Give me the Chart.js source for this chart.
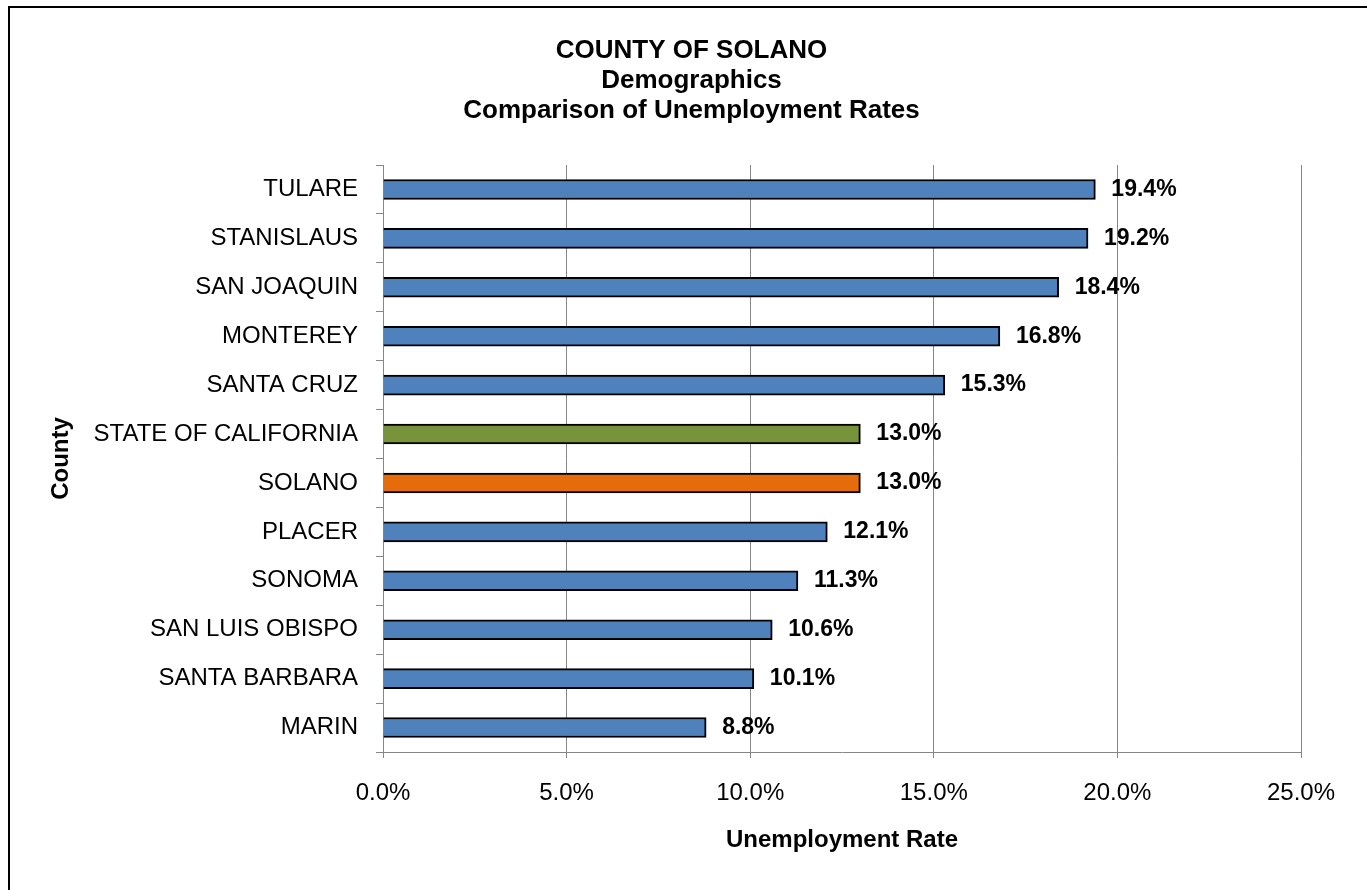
<!DOCTYPE html>
<html>
<head>
<meta charset="utf-8">
<script src="https://cdn.jsdelivr.net/npm/chart.js@4/dist/chart.umd.min.js"></script>
<style>
  html, body { margin: 0; padding: 0; background: #ffffff; }
  #wrap { width: 1367px; height: 890px; position: relative; }
  canvas { display: block; }
</style>
</head>
<body>
<div id="wrap"><canvas id="c" width="1367" height="890"></canvas></div>
<script>
const titleLines = ['COUNTY OF SOLANO', 'Demographics', 'Comparison of Unemployment Rates'];
const categories = ['TULARE', 'STANISLAUS', 'SAN JOAQUIN', 'MONTEREY', 'SANTA CRUZ', 'STATE OF CALIFORNIA', 'SOLANO', 'PLACER', 'SONOMA', 'SAN LUIS OBISPO', 'SANTA BARBARA', 'MARIN'];
const rates = [19.4, 19.2, 18.4, 16.8, 15.3, 13.0, 13.0, 12.1, 11.3, 10.6, 10.1, 8.8];
const barColors = ['#4F81BD', '#4F81BD', '#4F81BD', '#4F81BD', '#4F81BD', '#77933C', '#E46C0A', '#4F81BD', '#4F81BD', '#4F81BD', '#4F81BD', '#4F81BD'];
const xTickValues = [0, 5, 10, 15, 20, 25];
const xAxisTitle = 'Unemployment Rate';
const yAxisTitle = 'County';

const FONT = '"Liberation Sans", Arial, sans-serif';
const GRID = '#868686';

const frameBorder = {
  id: 'frameBorder',
  afterDraw(chart) {
    const ctx = chart.ctx;
    ctx.save();
    ctx.strokeStyle = '#000000';
    ctx.lineWidth = 2;
    ctx.strokeRect(9, 7, 1500, 1000);
    ctx.restore();
  }
};

const valueLabels = {
  id: 'valueLabels',
  afterDatasetsDraw(chart) {
    const ctx = chart.ctx;
    const meta = chart.getDatasetMeta(0);
    ctx.save();
    ctx.font = 'bold 23px ' + FONT;
    ctx.fillStyle = '#000000';
    ctx.textAlign = 'left';
    ctx.textBaseline = 'middle';
    meta.data.forEach((bar, i) => {
      ctx.fillText(rates[i].toFixed(1) + '%', bar.x + 16, bar.y);
    });
    ctx.restore();
  }
};

new Chart(document.getElementById('c'), {
  type: 'bar',
  data: {
    labels: categories,
    datasets: [{
      data: rates,
      backgroundColor: barColors,
      borderColor: '#000000',
      borderWidth: 2,
      barThickness: 20
    }]
  },
  plugins: [frameBorder, valueLabels],
  options: {
    indexAxis: 'y',
    responsive: false,
    animation: false,
    devicePixelRatio: 1,
    layout: { padding: { top: 0, left: 82, right: 66, bottom: 0 } },
    plugins: {
      legend: { display: false },
      tooltip: { enabled: false },
      title: {
        display: true,
        text: titleLines,
        color: '#000000',
        font: { family: FONT, size: 26, weight: 'bold', lineHeight: 30 / 26 },
        padding: { top: 36, bottom: 39 }
      }
    },
    scales: {
      x: {
        min: 0,
        max: 25,
        afterBuildTicks(scale) { scale.ticks = xTickValues.map(v => ({ value: v })); },
        afterFit(scale) { scale.height = 138; },
        ticks: {
          color: '#000000',
          font: { family: FONT, size: 24 },
          padding: 21,
          callback: (v) => Number(v).toFixed(1) + '%'
        },
        grid: { color: GRID, lineWidth: 1, tickLength: 6, drawTicks: true },
        border: { display: true, color: GRID, width: 1 },
        title: {
          display: true,
          text: xAxisTitle,
          color: '#000000',
          font: { family: FONT, size: 24, weight: 'bold', lineHeight: 1.2 },
          padding: { top: 0, bottom: 35.6 }
        }
      },
      y: {
        afterFit(scale) { scale.width = 383 - 82; },
        ticks: {
          color: '#000000',
          font: { family: FONT, size: 24 },
          padding: 18
        },
        grid: { display: true, drawOnChartArea: false, drawTicks: true, tickLength: 7, color: GRID, lineWidth: 1, offset: true },
        border: { display: true, color: GRID, width: 1 },
        title: {
          display: true,
          text: yAxisTitle,
          color: '#000000',
          font: { family: FONT, size: 24, weight: 'bold', lineHeight: 1.2 },
          padding: { top: -35, bottom: 0 }
        }
      }
    }
  }
});
</script>
</body>
</html>
